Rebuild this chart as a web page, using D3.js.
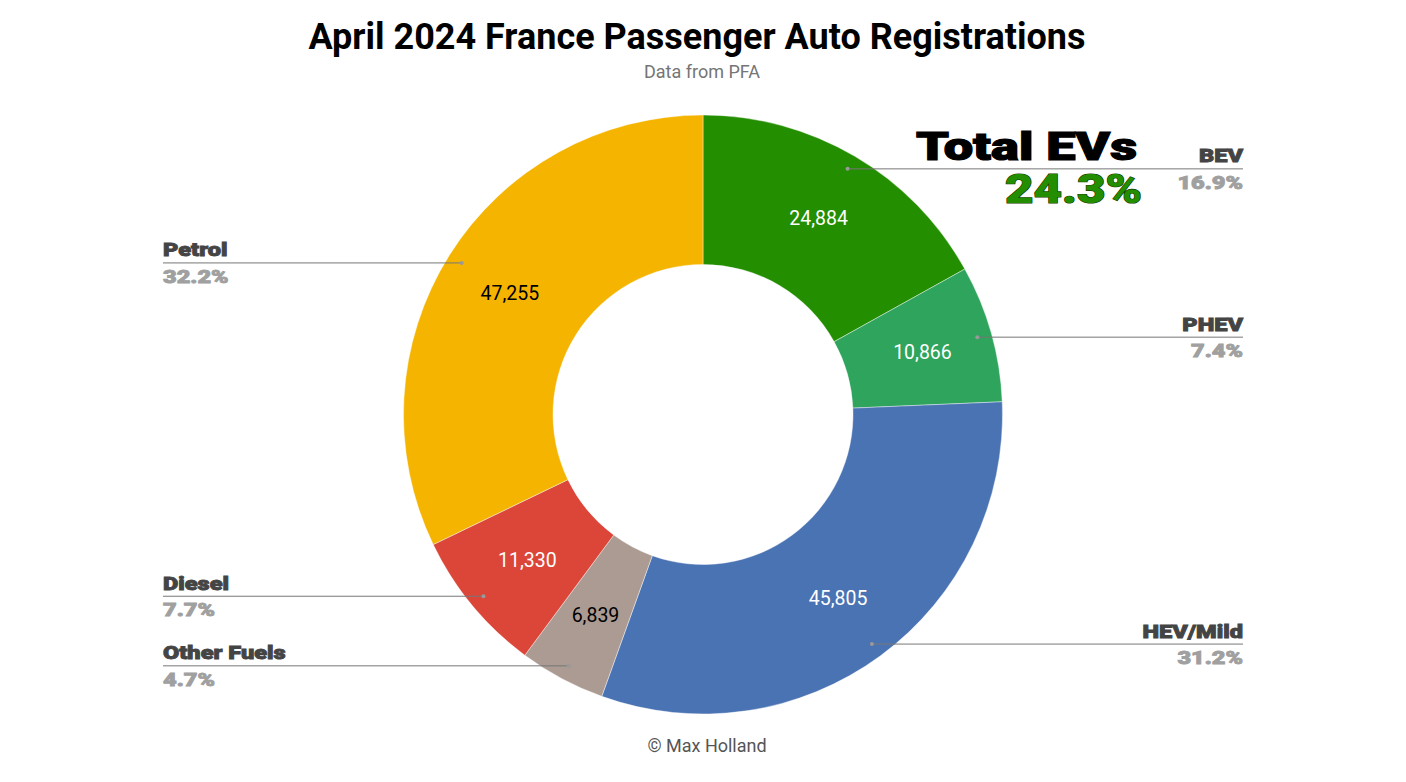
<!DOCTYPE html>
<html>
<head>
<meta charset="utf-8">
<script src="https://cdn.jsdelivr.net/npm/d3@7"></script>
<style>
  body { margin: 0; background: #fff; }
  text { font-family: Roboto, "Noto Sans", sans-serif; }
  .lbl { font-family: "Arial Black", Roboto, sans-serif; font-weight: 900; }
</style>
</head>
<body>
<div id="chart"></div>
<script>
// data
const categories = ["BEV", "PHEV", "HEV/Mild", "Other Fuels", "Diesel", "Petrol"];
const values = [24884, 10866, 45805, 6839, 11330, 47255];
const percentLabels = ["16.9%", "7.4%", "31.2%", "4.7%", "7.7%", "32.2%"];
const colors = ["#228e00", "#2ea45c", "#4a73b3", "#ab9b92", "#dc4639", "#f4b400"];
const valueTextColors = ["#fff", "#fff", "#fff", "#000", "#fff", "#000"];
const totalEvs = "24.3%";

const w = 1406, h = 782;
const cx = 703, cy = 414.5;
const rOuter = 299.5, rInner = 150;

const svg = d3.select("#chart").append("svg")
  .attr("width", w).attr("height", h);

// titles
svg.append("text").attr("x", 697).attr("y", 49).attr("text-anchor", "middle")
  .style("font-size", "36px").style("font-weight", "700").attr("fill", "#000")
  .text("April 2024 France Passenger Auto Registrations");
svg.append("text").attr("x", 702).attr("y", 78).attr("text-anchor", "middle")
  .style("font-size", "18px").attr("fill", "#757575")
  .text("Data from PFA");
svg.append("text").attr("x", 707).attr("y", 752).attr("text-anchor", "middle")
  .style("font-size", "18px").attr("fill", "#555")
  .text("\u00A9 Max Holland");

const pie = d3.pie().sort(null).value(d => d)(values);
const arc = d3.arc().innerRadius(rInner).outerRadius(rOuter);
const g = svg.append("g").attr("transform", `translate(${cx},${cy})`);

g.selectAll("path").data(pie).enter().append("path")
  .attr("d", arc)
  .attr("fill", (d, i) => colors[i])
  .attr("stroke", "rgba(255,255,255,0.6)")
  .attr("stroke-width", 0.7);

const fmt = d3.format(",");
const labelArc = d3.arc().innerRadius(228).outerRadius(228);
g.selectAll(".val").data(pie).enter().append("text")
  .attr("class", "val")
  .attr("transform", d => `translate(${labelArc.centroid(d)})`)
  .attr("text-anchor", "middle").attr("dy", "0.35em")
  .style("font-size", "19.5px")
  .attr("fill", (d, i) => valueTextColors[i])
  .text(d => fmt(d.data));

// heavy label: stretch the bold face a bit to look like a black weight
function heavy(sel, stretch) {
  sel.each(function() {
    const len = this.getComputedTextLength();
    d3.select(this).attr("textLength", len * stretch).attr("lengthAdjust", "spacingAndGlyphs");
  });
  return sel;
}

// leader lines and side labels
const dotArc = d3.arc().innerRadius(285).outerRadius(285);
const rightX = 1243, leftX = 163;
pie.forEach((d, i) => {
  const [px, py] = dotArc.centroid(d);
  const right = px > 0;
  const x0 = cx + px, y0 = cy + py;
  const xe = right ? rightX : leftX;
  svg.append("line").attr("x1", x0).attr("y1", y0).attr("x2", xe).attr("y2", y0)
    .attr("stroke", "#777").attr("stroke-width", 1);
  svg.append("circle").attr("cx", x0).attr("cy", y0).attr("r", 2).attr("fill", "#999");
  const anchor = right ? "end" : "start";
  heavy(svg.append("text").attr("class", "lbl").attr("x", xe).attr("y", y0 - 6.5)
    .attr("text-anchor", anchor).style("font-size", "19px").attr("fill", "#444")
    .attr("stroke", "#444").attr("stroke-width", 0.9)
    .text(categories[i]), 1.24);
  heavy(svg.append("text").attr("class", "lbl").attr("x", xe).attr("y", y0 + 20)
    .attr("text-anchor", anchor).style("font-size", "19px").attr("fill", "#a0a0a0")
    .attr("stroke", "#a0a0a0").attr("stroke-width", 0.9)
    .text(percentLabels[i]), 1.24);
});

// Total EVs callout
svg.append("text").attr("class", "lbl").attr("x", 916).attr("y", 160)
  .style("font-size", "39px").attr("fill", "#000")
  .attr("stroke", "#000").attr("stroke-width", 1.2).style("paint-order", "stroke")
  .attr("textLength", 221).attr("lengthAdjust", "spacingAndGlyphs")
  .text("Total EVs");
svg.append("text").attr("class", "lbl").attr("x", 1005).attr("y", 203)
  .style("font-size", "40px").attr("fill", "#228e00")
  .attr("stroke", "#163a00").attr("stroke-width", 1.2).style("paint-order", "stroke")
  .attr("textLength", 137).attr("lengthAdjust", "spacingAndGlyphs")
  .text(totalEvs);
</script>
</body>
</html>
